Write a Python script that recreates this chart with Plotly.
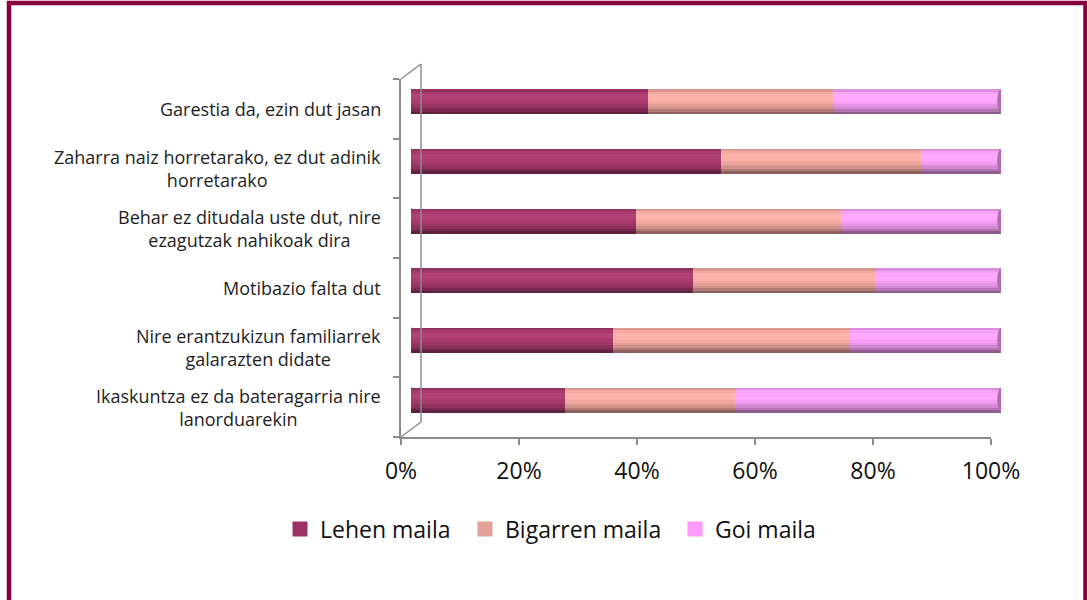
import plotly.graph_objects as go

# ---------------- data (bottom -> top, as in the source sheet) ----------------
categories = [
    "Ikaskuntza ez da bateragarria nire<br>lanorduarekin",
    "Nire erantzukizun familiarrek<br>galarazten didate",
    "Motibazio falta dut",
    "Behar ez ditudala uste dut, nire<br>ezagutzak nahikoak dira",
    "Zaharra naiz horretarako, ez dut adinik<br>horretarako",
    "Garestia da, ezin dut jasan",
]
lehen_maila = [26.1, 34.2, 47.8, 38.1, 52.5, 40.2]
bigarren_maila = [28.8, 40.0, 30.8, 34.8, 33.9, 31.3]
goi_maila = [45.1, 25.8, 21.4, 27.1, 13.6, 28.5]
series_names = ["Lehen maila", "Bigarren maila", "Goi maila"]
x_ticks = [0, 20, 40, 60, 80, 100]
x_tick_labels = ["0%", "20%", "40%", "60%", "80%", "100%"]

# ---------------- styling ----------------
W, H = 1087, 600
bar_colors = ["#AD3B71", "#FCB0A8", "#FFA6FF"]
legend_colors = ["#993366", "#E5A098", "#FF99FF"]
legend_left_px = [280, 465, 675]
profile = [0.86, 0.97, 1.02, 1.02, 1.0, 0.96, 0.9, 0.82, 0.7, 0.56]
bar_w = 0.42
FONT = "Open Sans"


def shade(hexc, f):
    hexc = hexc.lstrip("#")
    r, g, b = (int(hexc[i:i + 2], 16) for i in (0, 2, 4))
    if f <= 1:
        r, g, b = (int(c * f) for c in (r, g, b))
    else:
        r, g, b = (int(c + (255 - c) * (f - 1) * 2) for c in (r, g, b))
    return f"rgb({min(r,255)},{min(g,255)},{min(b,255)})"


def px_x(p):
    return p / W


def px_y(p):
    return 1 - p / H


pos = list(range(len(categories)))
series = [lehen_maila, bigarren_maila, goi_maila]

fig = go.Figure()

# stacked bars with a cylinder-like shading made of horizontal strips
bases = [0.0] * len(categories)
n = len(profile)
for s_idx, vals in enumerate(series):
    for k, f in enumerate(profile):
        fig.add_trace(go.Bar(
            x=vals, y=pos, base=bases, orientation="h",
            width=bar_w / n + 0.002,
            offset=bar_w / 2 - (k + 1) * bar_w / n,
            marker=dict(color=shade(bar_colors[s_idx], f), line=dict(width=0)),
            showlegend=False, hoverinfo="skip",
            xaxis="x", yaxis="y",
        ))
    bases = [b + v for b, v in zip(bases, vals)]

# legend entries (one legend per entry to reproduce the spacing)
legend_ids = ["legend", "legend2", "legend3"]
for name, col, lid in zip(series_names, legend_colors, legend_ids):
    fig.add_trace(go.Scatter(
        x=[None], y=[None], mode="markers", name=name, legend=lid,
        marker=dict(symbol="square", size=15, color=col),
        xaxis="x", yaxis="y",
    ))

# invisible trace to activate the front axes
fig.add_trace(go.Scatter(x=[0, 100], y=[pos[0], pos[-1]], mode="markers",
                         marker=dict(opacity=0), showlegend=False,
                         hoverinfo="skip", xaxis="x2", yaxis="y2"))

shapes = []
# bar end caps
for p, tot in zip(pos, bases):
    shapes.append(dict(type="circle", xref="x", yref="y", layer="below",
                       x0=-0.8, x1=0.8, y0=p - bar_w / 2, y1=p + bar_w / 2,
                       fillcolor="#9E3566", line=dict(width=0)))
    shapes.append(dict(type="circle", xref="x", yref="y", layer="above",
                       x0=tot - 0.65, x1=tot + 0.65, y0=p - bar_w / 2 + 0.01,
                       y1=p + bar_w / 2 - 0.01,
                       fillcolor="#B06CB0", line=dict(width=0)))

# 3D frame (side wall edges)
gray = "#8C8C8C"
for (xa, ya, xb, yb) in [(421, 64, 421, 422), (401, 79, 421, 64), (401, 437, 421, 422)]:
    shapes.append(dict(type="line", xref="paper", yref="paper",
                       x0=px_x(xa), y0=px_y(ya), x1=px_x(xb), y1=px_y(yb),
                       line=dict(color=gray, width=1.5)))

# outer border
shapes.append(dict(type="rect", xref="paper", yref="paper",
                   x0=px_x(9), x1=px_x(1085.5), y0=-0.1, y1=px_y(3),
                   line=dict(color="#870041", width=4.5)))

annotations = []
for p, lab in zip(pos, categories):
    annotations.append(dict(x=px_x(383), xref="paper", y=p, yref="y2",
                            text=lab, showarrow=False, xanchor="right",
                            yanchor="middle", align="center",
                            font=dict(family=FONT, size=18, color="#1E1E1E")))

legend_style = dict(orientation="h", xanchor="left", y=px_y(529),
                    yanchor="middle", itemwidth=30,
                    bgcolor="rgba(0,0,0,0)",
                    font=dict(family=FONT, size=23, color="#111111"))

fig.update_layout(
    width=W, height=H,
    margin=dict(l=0, r=0, t=0, b=0, autoexpand=False),
    paper_bgcolor="white", plot_bgcolor="rgba(0,0,0,0)",
    barmode="overlay", bargap=0,
    font=dict(family=FONT, color="#1E1E1E"),
    xaxis=dict(domain=[px_x(411), px_x(1001)], range=[0, 100],
               visible=False, fixedrange=True, automargin=False),
    yaxis=dict(domain=[px_y(429.5), px_y(71.5)], range=[-0.5, 5.5],
               visible=False, fixedrange=True, automargin=False),
    xaxis2=dict(domain=[px_x(401), px_x(991)], range=[0, 100],
                anchor="y2", tickmode="array", tickvals=x_ticks,
                ticktext=x_tick_labels, automargin=False,
                showline=True, linecolor=gray, linewidth=1.5,
                ticks="outside", ticklen=6, tickcolor=gray, tickwidth=1.5,
                showgrid=False, zeroline=False, ticklabelstandoff=7,
                tickfont=dict(family=FONT, size=23, color="#111111")),
    yaxis2=dict(domain=[px_y(437), px_y(79)], range=[-0.5, 5.5],
                anchor="x2", showline=True, linecolor=gray, linewidth=1.5,
                showticklabels=False, ticks="", showgrid=False,
                zeroline=False, automargin=False,
                minor=dict(tickmode="linear", tick0=0.5, dtick=1,
                           ticks="outside", ticklen=6, tickcolor=gray,
                           tickwidth=1.5, showgrid=False)),
    legend=dict(x=px_x(legend_left_px[0]), **legend_style),
    legend2=dict(x=px_x(legend_left_px[1]), **legend_style),
    legend3=dict(x=px_x(legend_left_px[2]), **legend_style),
    shapes=shapes, annotations=annotations,
)

fig.write_html(
    "out.html",
    config={"displayModeBar": False},
    post_script=("document.body.style.margin='0';"
                 "document.body.style.overflow='hidden';"
                 "document.documentElement.style.overflow='hidden';"),
)
